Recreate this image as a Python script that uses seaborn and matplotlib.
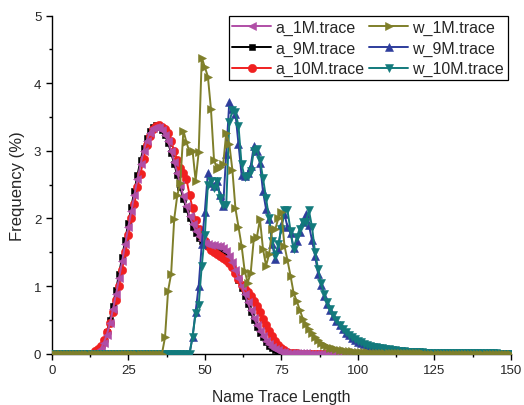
import numpy as np
import pandas as pd
import seaborn as sns
import matplotlib
matplotlib.use("Agg")
import matplotlib.pyplot as plt
from matplotlib.ticker import MultipleLocator

# ---------------- data (x = trace length 0..150) ----------------
x_len = list(range(0, 151))

a_1M = [
    0, 0, 0, 0, 0, 0, 0, 0, 0, 0,
    0, 0, 0, 0, 0, 0.02, 0.07, 0.16, 0.28, 0.45,
    0.66, 0.88, 1.12, 1.37, 1.62, 1.87, 2.11, 2.35, 2.58, 2.80,
    3.00, 3.15, 3.27, 3.34, 3.36, 3.35, 3.31, 3.24, 3.14, 3.00,
    2.84, 2.68, 2.50, 2.33, 2.18, 2.04, 1.92, 1.82, 1.74, 1.68,
    1.64, 1.62, 1.61, 1.61, 1.60, 1.60, 1.57, 1.52, 1.44, 1.35,
    1.24, 1.12, 1.00, 0.88, 0.76, 0.64, 0.53, 0.43, 0.34, 0.26,
    0.19, 0.14, 0.10, 0.07, 0.05, 0.03, 0.02, 0.015, 0.01, 0.008,
    0.006, 0.005, 0.004, 0.003, 0.002, 0.002, 0.001, 0.001, 0, 0,
    0, 0, 0, 0, 0, 0, 0, 0, 0, 0,
    0, 0, 0, 0, 0, 0, 0, 0, 0, 0,
    0, 0, 0, 0, 0, 0, 0, 0, 0, 0,
    0, 0, 0, 0, 0, 0, 0, 0, 0, 0,
    0, 0, 0, 0, 0, 0, 0, 0, 0, 0,
    0, 0, 0, 0, 0, 0, 0, 0, 0, 0,
    0,
]

a_9M = [
    0, 0, 0, 0, 0, 0, 0, 0, 0, 0,
    0, 0, 0, 0, 0, 0.03, 0.09, 0.19, 0.32, 0.50,
    0.71, 0.94, 1.18, 1.43, 1.68, 1.93, 2.17, 2.41, 2.64, 2.86,
    3.04, 3.19, 3.30, 3.36, 3.38, 3.36, 3.31, 3.23, 3.12, 2.97,
    2.81, 2.64, 2.46, 2.29, 2.14, 2.00, 1.88, 1.79, 1.71, 1.66,
    1.62, 1.60, 1.59, 1.59, 1.58, 1.57, 1.54, 1.49, 1.41, 1.32,
    1.21, 1.09, 0.97, 0.85, 0.73, 0.61, 0.50, 0.40, 0.31, 0.24,
    0.17, 0.12, 0.09, 0.06, 0.04, 0.03, 0.02, 0.01, 0.008, 0.005,
    0.003, 0.002, 0.002, 0.001, 0.001, 0, 0, 0, 0, 0,
    0, 0, 0, 0, 0, 0, 0, 0, 0, 0,
    0, 0, 0, 0, 0, 0, 0, 0, 0, 0,
    0, 0, 0, 0, 0, 0, 0, 0, 0, 0,
    0, 0, 0, 0, 0, 0, 0, 0, 0, 0,
    0, 0, 0, 0, 0, 0, 0, 0, 0, 0,
    0, 0, 0, 0, 0, 0, 0, 0, 0, 0,
    0,
]

a_10M = [
    0, 0, 0, 0, 0, 0, 0, 0, 0, 0,
    0, 0, 0, 0, 0.04, 0.07, 0.11, 0.20, 0.32, 0.46,
    0.62, 0.80, 1.00, 1.24, 1.50, 1.76, 2.00, 2.22, 2.46, 2.66,
    2.88, 3.08, 3.22, 3.32, 3.37, 3.38, 3.36, 3.32, 3.26, 3.14,
    3.00, 2.86, 2.74, 2.68, 2.58, 2.35, 2.15, 1.98, 1.85, 1.74,
    1.66, 1.59, 1.53, 1.50, 1.47, 1.44, 1.41, 1.38, 1.34, 1.28,
    1.20, 1.11, 1.02, 0.96, 0.91, 0.85, 0.78, 0.70, 0.61, 0.52,
    0.43, 0.34, 0.26, 0.19, 0.13, 0.08, 0.05, 0.03, 0.015, 0.008,
    0.004, 0.002, 0.001, 0, 0, 0, 0, 0, 0, 0,
    0, 0, 0, 0, 0, 0, 0, 0, 0, 0,
    0, 0, 0, 0, 0, 0, 0, 0, 0, 0,
    0, 0, 0, 0, 0, 0, 0, 0, 0, 0,
    0, 0, 0, 0, 0, 0, 0, 0, 0, 0,
    0, 0, 0, 0, 0, 0, 0, 0, 0, 0,
    0, 0, 0, 0, 0, 0, 0, 0, 0, 0,
    0,
]

w_1M = [
    0, 0, 0, 0, 0, 0, 0, 0, 0, 0,
    0, 0, 0, 0, 0, 0, 0, 0, 0, 0,
    0, 0, 0, 0, 0, 0, 0, 0, 0, 0,
    0, 0, 0, 0, 0, 0, 0, 0.24, 0.93, 1.18,
    1.99, 2.34, 2.53, 3.30, 3.13, 2.98, 3.00, 2.56, 2.98, 4.38,
    4.24, 4.10, 3.62, 2.87, 2.73, 2.76, 2.80, 3.27, 3.10, 2.72,
    2.15, 1.87, 1.60, 1.23, 1.05, 1.20, 1.70, 1.72, 1.99, 1.55,
    1.30, 1.47, 1.84, 1.84, 2.00, 2.09, 1.60, 1.38, 1.15, 0.90,
    0.78, 0.65, 0.52, 0.44, 0.36, 0.30, 0.24, 0.20, 0.16, 0.13,
    0.11, 0.09, 0.08, 0.07, 0.06, 0.05, 0.045, 0.04, 0.035, 0.03,
    0.027, 0.024, 0.021, 0.019, 0.017, 0.015, 0.013, 0.012, 0.011, 0.010,
    0.009, 0.008, 0.007, 0.006, 0.006, 0.005, 0.005, 0.004, 0.004, 0.003,
    0.003, 0.003, 0.002, 0.002, 0.002, 0.002, 0.001, 0.001, 0.001, 0.001,
    0, 0, 0, 0, 0, 0, 0, 0, 0, 0,
    0, 0, 0, 0, 0, 0, 0, 0, 0, 0,
    0,
]

w_9M = [
    0, 0, 0, 0, 0, 0, 0, 0, 0, 0,
    0, 0, 0, 0, 0, 0, 0, 0, 0, 0,
    0, 0, 0, 0, 0, 0, 0, 0, 0, 0,
    0, 0, 0, 0, 0, 0, 0, 0, 0, 0,
    0, 0, 0, 0, 0, 0, 0.25, 0.62, 1.00, 1.62,
    2.10, 2.68, 2.53, 2.48, 2.56, 2.34, 2.19, 2.95, 3.73, 3.62,
    3.55, 3.10, 2.65, 2.63, 2.68, 2.78, 3.07, 3.00, 2.82, 2.40,
    2.14, 1.99, 1.62, 1.40, 1.55, 1.90, 2.06, 1.88, 1.78, 1.56,
    1.66, 1.80, 1.95, 2.06, 1.90, 1.68, 1.45, 1.18, 1.02, 0.86,
    0.74, 0.64, 0.56, 0.48, 0.42, 0.36, 0.31, 0.27, 0.23, 0.20,
    0.18, 0.16, 0.14, 0.13, 0.11, 0.10, 0.09, 0.08, 0.075, 0.07,
    0.06, 0.055, 0.05, 0.045, 0.04, 0.035, 0.03, 0.028, 0.025, 0.022,
    0.020, 0.018, 0.016, 0.015, 0.014, 0.013, 0.012, 0.011, 0.010, 0.010,
    0.009, 0.008, 0.008, 0.007, 0.007, 0.006, 0.006, 0.005, 0.005, 0.005,
    0.004, 0.004, 0.004, 0.003, 0.003, 0.003, 0.002, 0.002, 0.002, 0.002,
    0.001,
]

w_10M = [
    0, 0, 0, 0, 0, 0, 0, 0, 0, 0,
    0, 0, 0, 0, 0, 0, 0, 0, 0, 0,
    0, 0, 0, 0, 0, 0, 0, 0, 0, 0,
    0, 0, 0, 0, 0, 0, 0, 0, 0, 0,
    0, 0, 0, 0, 0, 0, 0.25, 0.60, 0.72, 1.30,
    1.75, 2.50, 2.55, 2.45, 2.55, 2.30, 2.20, 2.20, 3.42, 3.60,
    3.57, 3.37, 2.80, 2.62, 2.63, 2.70, 3.00, 3.03, 2.87, 2.60,
    2.30, 2.00, 1.66, 1.45, 1.62, 1.85, 2.12, 2.12, 1.82, 1.55,
    1.72, 1.85, 1.95, 1.95, 2.12, 1.88, 1.50, 1.25, 1.05, 0.88,
    0.76, 0.66, 0.57, 0.50, 0.43, 0.37, 0.32, 0.28, 0.24, 0.21,
    0.19, 0.17, 0.15, 0.13, 0.12, 0.105, 0.095, 0.085, 0.078, 0.07,
    0.063, 0.057, 0.052, 0.047, 0.042, 0.037, 0.032, 0.029, 0.026, 0.023,
    0.021, 0.019, 0.017, 0.015, 0.014, 0.013, 0.012, 0.011, 0.010, 0.010,
    0.009, 0.008, 0.008, 0.007, 0.007, 0.006, 0.006, 0.005, 0.005, 0.005,
    0.004, 0.004, 0.004, 0.003, 0.003, 0.003, 0.002, 0.002, 0.002, 0.002,
    0.001,
]

series_names = ["a_1M.trace", "a_9M.trace", "a_10M.trace",
                "w_1M.trace", "w_9M.trace", "w_10M.trace"]
series_values = [a_1M, a_9M, a_10M, w_1M, w_9M, w_10M]

# ---------------- style ----------------
colors = ["#b04ea6", "#000000", "#f02020", "#7f7f2a", "#2e3d9c", "#127a7c"]
markers = ["<", "s", "o", ">", "^", "v"]
msizes = [6.0, 4.2, 6.0, 6.0, 6.0, 6.0]
zorders = [5, 3, 4, 8, 6, 7]

sns.set_style("ticks")
plt.rcParams["font.family"] = ["Liberation Sans", "DejaVu Sans"]

fig = plt.figure(figsize=(5.24, 4.06), dpi=100)
ax = fig.add_axes([0.0987, 0.1264, 0.8765, 0.8325])

for name, vals, c, m, ms, z in zip(series_names, series_values, colors,
                                   markers, msizes, zorders):
    df = pd.DataFrame({"x": x_len, "y": vals})
    sns.lineplot(data=df, x="x", y="y", ax=ax, color=c, marker=m,
                 markersize=ms, markeredgewidth=0.4, markeredgecolor=c,
                 linewidth=1.4, label=name, zorder=z)

ax.set_xlim(0, 150)
ax.set_ylim(0, 5)
ax.xaxis.set_major_locator(MultipleLocator(25))
ax.xaxis.set_minor_locator(MultipleLocator(12.5))
ax.yaxis.set_major_locator(MultipleLocator(1))
ax.yaxis.set_minor_locator(MultipleLocator(0.5))
ax.tick_params(axis="both", which="major", direction="out", length=4.5,
               width=1.0, labelsize=9.5, color="black", pad=3)
ax.tick_params(axis="both", which="minor", direction="out", length=2.5,
               width=1.0, color="black")
for s in ["top", "right"]:
    ax.spines[s].set_visible(False)
for s in ["left", "bottom"]:
    ax.spines[s].set_color("black")
    ax.spines[s].set_linewidth(1.0)

ax.set_xlabel("Name Trace Length", fontsize=11.3, labelpad=9)
ax.set_ylabel("Frequency (%)", fontsize=12, labelpad=6)

leg = ax.legend(loc="upper right", bbox_to_anchor=(0.993, 0.998), ncol=2,
                fontsize=11.5, frameon=True, fancybox=False, framealpha=1,
                edgecolor="black", handlelength=2.4, handletextpad=0.3,
                columnspacing=0.3, labelspacing=0.35, borderpad=0.22,
                borderaxespad=0.0, numpoints=1)
leg.get_frame().set_linewidth(0.9)

fig.savefig("out.png", dpi=100)
